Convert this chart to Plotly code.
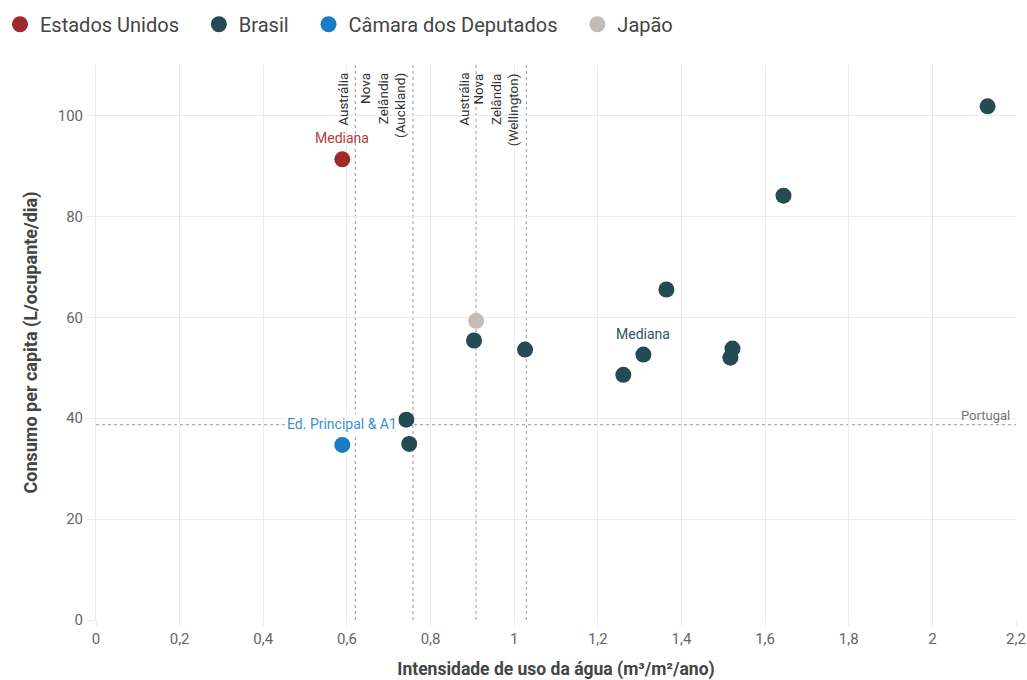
import plotly.graph_objects as go

us_x = [0.589]
us_y = [91.3]
br_x = [2.132, 1.644, 1.364, 0.904, 1.026, 1.309, 1.522, 1.517, 1.261, 0.742, 0.749]
br_y = [101.8, 84.1, 65.5, 55.4, 53.6, 52.6, 53.8, 52.0, 48.6, 39.7, 34.9]
cd_x = [0.589]
cd_y = [34.7]
jp_x = [0.909]
jp_y = [59.3]

vlines = [0.62, 0.758, 0.909, 1.029]
vlabels = ["Austrália", "Nova<br>Zelândia<br>(Auckland)", "Austrália", "Nova<br>Zelândia<br>(Wellington)"]
portugal_y = 38.7

xticks = [0, 0.2, 0.4, 0.6, 0.8, 1, 1.2, 1.4, 1.6, 1.8, 2, 2.2]
xticklabels = ["0", "0,2", "0,4", "0,6", "0,8", "1", "1,2", "1,4", "1,6", "1,8", "2", "2,2"]
yticks = [0, 20, 40, 60, 80, 100]

C_US = "#a0292b"
C_BR = "#234a55"
C_CD = "#1b7bc4"
C_JP = "#c5bbb5"
FONT = "Roboto"
PAD = "\u00a0\u00a0\u00a0"

fig = go.Figure()
for name, xs, ys, c in [("Estados Unidos", us_x, us_y, C_US), ("Brasil", br_x, br_y, C_BR),
                        ("Câmara dos Deputados", cd_x, cd_y, C_CD), ("Japão", jp_x, jp_y, C_JP)]:
    fig.add_trace(go.Scatter(x=xs, y=ys, mode="markers", name=name + PAD,
                             marker=dict(color=c, size=16, line=dict(width=0))))

for v, lab in zip(vlines, vlabels):
    fig.add_shape(type="line", x0=v, x1=v, y0=0, y1=1, yref="paper",
                  line=dict(color="#999", width=1, dash="dot"), layer="below")
    fig.add_annotation(x=v, y=1, yref="paper", text=lab, textangle=-90, showarrow=False,
                       xanchor="right", yanchor="top", align="right", xshift=-3, yshift=-6,
                       font=dict(family=FONT, size=13.5, color="#333"))

fig.add_shape(type="line", x0=0, x1=1, xref="paper", y0=portugal_y, y1=portugal_y,
              line=dict(color="#999", width=1, dash="dot"), layer="below")
fig.add_annotation(x=1, xref="paper", y=portugal_y, text="Portugal", showarrow=False,
                   xanchor="right", yanchor="bottom", xshift=-4,
                   font=dict(family=FONT, size=13, color="#777"))

fig.add_annotation(x=us_x[0], y=us_y[0], text="Mediana", showarrow=False, yshift=21,
                   font=dict(family=FONT, size=14, color="#b04040"))
fig.add_annotation(x=br_x[5], y=br_y[5], text="Mediana", showarrow=False, yshift=21,
                   font=dict(family=FONT, size=14, color="#2d5563"))
fig.add_annotation(x=cd_x[0], y=cd_y[0], text="Ed. Principal & A1", showarrow=False, yshift=21,
                   font=dict(family=FONT, size=14, color="#3a8fd0"), bgcolor="white")

fig.update_layout(
    width=1027, height=680, paper_bgcolor="white", plot_bgcolor="white",
    margin=dict(l=96, r=11, t=65, b=60, autoexpand=False),
    font=dict(family=FONT, color="#555"),
    legend=dict(orientation="h", x=-0.005, xanchor="left", y=0.993, yanchor="top",
                yref="container", xref="container",
                font=dict(family=FONT, size=20, color="#444"), itemsizing="trace",
                traceorder="normal"),
    xaxis=dict(range=[0, 2.2], tickvals=xticks, ticktext=xticklabels, showgrid=True,
               gridcolor="#ebebeb", zeroline=False, showline=False,
               ticks="outside", ticklen=5, tickcolor="#ebebeb",
               tickfont=dict(size=15, color="#666"), ticklabeloverflow="allow",
               title=dict(text="Intensidade de uso da água (m³/m²/ano)",
                          font=dict(size=17.5, color="#444", weight="bold"), standoff=34)),
    yaxis=dict(range=[0, 110], tickvals=yticks, showgrid=True, gridcolor="#ebebeb",
               zeroline=False, showline=True, linecolor="#ebebeb",
               ticks="outside", ticklen=9, tickcolor="#ebebeb",
               tickfont=dict(size=15, color="#666"),
               title=dict(text="Consumo per capita (L/ocupante/dia)",
                          font=dict(size=18, color="#444", weight="bold"), standoff=15)),
)
fig.write_html("out.html", config={"displayModeBar": False},
               post_script="document.body.style.margin='0';document.body.style.overflow='hidden';")
